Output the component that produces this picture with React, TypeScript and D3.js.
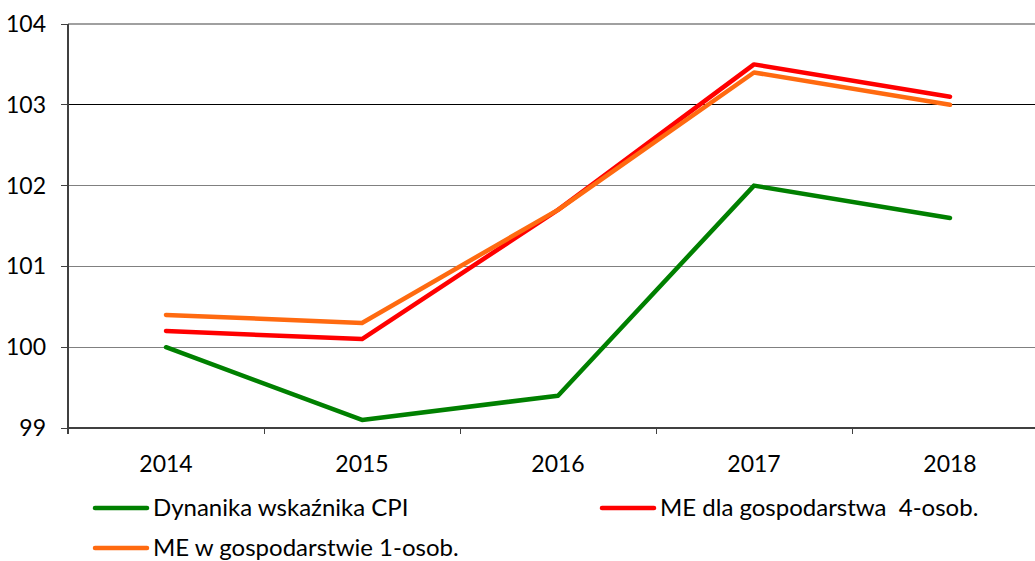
import React, { useEffect, useRef } from 'react'
import * as d3 from 'd3'

const years = ['2014', '2015', '2016', '2017', '2018']
const cpi = [100.0, 99.1, 99.4, 102.0, 101.6]
const me4 = [100.2, 100.1, 101.7, 103.5, 103.1]
const me1 = [100.4, 100.3, 101.7, 103.4, 103.0]
const yTicks = [99, 100, 101, 102, 103, 104]

const series = [
  { name: 'Dynanika wskaźnika CPI', values: cpi, color: '#008000' },
  { name: 'ME dla gospodarstwa  4-osob.', values: me4, color: '#ff0000' },
  { name: 'ME w gospodarstwie 1-osob.', values: me1, color: '#ff6a10' },
]

const W = 1035
const H = 561
const FONT = 'Lato, "Open Sans", sans-serif'

export default function App() {
  const ref = useRef<SVGSVGElement | null>(null)

  useEffect(() => {
    if (!ref.current) return
    const svg = d3.select(ref.current)
    svg.selectAll('*').remove()

    const left = 68
    const band = 196
    const x = d3.scaleBand<string>().domain(years).range([left, left + band * years.length])
    const y = d3.scaleLinear().domain([99, 104]).range([428, 24])
    const cx = (d: string) => (x(d) as number) + x.bandwidth() / 2

    // gridlines
    svg
      .append('g')
      .selectAll('line')
      .data(yTicks.filter((t) => t > 99))
      .join('line')
      .attr('x1', left)
      .attr('x2', W)
      .attr('y1', (d) => y(d))
      .attr('y2', (d) => y(d))
      .attr('stroke', (d) => (d === 104 ? '#a0a0a0' : d === 103 ? '#000' : '#808080'))
      .attr('stroke-width', (d) => (d === 104 ? 2 : 1))
      .attr('shape-rendering', 'crispEdges')

    // axes
    const axis = svg.append('g').attr('stroke', '#404040').attr('shape-rendering', 'crispEdges')
    axis.append('line').attr('x1', left).attr('x2', left).attr('y1', y(104)).attr('y2', y(99) + 6).attr('stroke-width', 1.5)
    axis.append('line').attr('x1', left).attr('x2', W).attr('y1', y(99)).attr('y2', y(99)).attr('stroke-width', 1.5)
    axis
      .selectAll('line.yt')
      .data(yTicks)
      .join('line')
      .attr('class', 'yt')
      .attr('x1', left - 7)
      .attr('x2', left)
      .attr('y1', (d) => y(d))
      .attr('y2', (d) => y(d))
    axis
      .selectAll('line.xt')
      .data(years)
      .join('line')
      .attr('class', 'xt')
      .attr('x1', (d) => x(d) as number)
      .attr('x2', (d) => x(d) as number)
      .attr('y1', y(99))
      .attr('y2', y(99) + 6)

    svg
      .append('g')
      .selectAll('text')
      .data(yTicks)
      .join('text')
      .attr('x', 46)
      .attr('y', (d) => y(d))
      .attr('dy', '0.35em')
      .attr('text-anchor', 'end')
      .style('font-family', FONT)
      .style('font-size', '23px')
      .text((d) => d)

    svg
      .append('g')
      .selectAll('text')
      .data(years)
      .join('text')
      .attr('x', cx)
      .attr('y', 464)
      .attr('dy', '0.35em')
      .attr('text-anchor', 'middle')
      .style('font-family', FONT)
      .style('font-size', '23px')
      .text((d) => d)

    const line = d3
      .line<number>()
      .x((_, i) => cx(years[i]))
      .y((d) => y(d))

    svg
      .append('g')
      .selectAll('path')
      .data(series)
      .join('path')
      .attr('d', (s) => line(s.values))
      .attr('fill', 'none')
      .attr('stroke', (s) => s.color)
      .attr('stroke-width', 4.5)
      .attr('stroke-linecap', 'round')
      .attr('stroke-linejoin', 'round')

    // legend
    const legendPos = [
      [95, 508],
      [602, 508],
      [95, 548],
    ]
    const lg = svg
      .append('g')
      .selectAll('g')
      .data(series)
      .join('g')
      .attr('transform', (_, i) => `translate(${legendPos[i][0]},${legendPos[i][1]})`)
    lg.append('line')
      .attr('x1', 0)
      .attr('x2', 52)
      .attr('stroke', (s) => s.color)
      .attr('stroke-width', 4.5)
      .attr('stroke-linecap', 'round')
    lg.append('text')
      .attr('x', 58)
      .attr('dy', '0.35em')
      .style('font-family', FONT)
      .style('font-size', '24px')
      .style('white-space', 'pre')
      .text((s) => s.name)
  }, [])

  return (
    <svg
      ref={ref}
      width={W}
      height={H}
      style={{ position: 'absolute', left: 0, top: 0, background: '#fff' }}
    />
  )
}
